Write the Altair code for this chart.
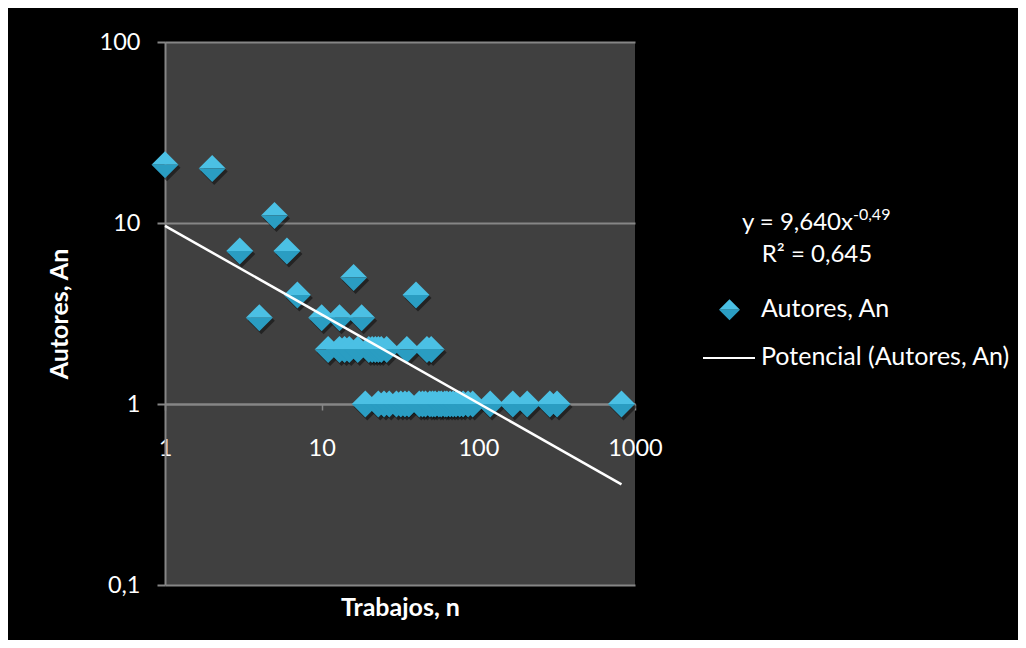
import altair as alt
import pandas as pd

# ---- data ----
trabajos = [1, 2, 3, 4, 5, 6, 7, 10, 13, 16, 18, 40,
            11, 13, 14, 15, 17, 20, 21, 22, 23, 24, 26, 35, 47, 50,
            19, 23, 25, 27, 30, 32, 34, 36, 42, 44, 46, 49, 51, 53, 56, 58, 61, 63,
            66, 69, 72, 76, 80, 86, 92, 119, 166, 205, 286, 318, 820]
autores = [21, 20, 7, 3, 11, 7, 4, 3, 3, 5, 3, 4,
           2, 2, 2, 2, 2, 2, 2, 2, 2, 2, 2, 2, 2, 2,
           1, 1, 1, 1, 1, 1, 1, 1, 1, 1, 1, 1, 1, 1, 1, 1, 1, 1,
           1, 1, 1, 1, 1, 1, 1, 1, 1, 1, 1, 1, 1]
coef_a = 9.640
coef_b = -0.49
eq_main = "y = 9,640x"
eq_exp = "-0,49"
r2_text = "R² = 0,645"
serie_puntos = "Autores, An"
serie_tend = "Potencial (Autores, An)"
x_title = "Trabajos, n"
y_title = "Autores, An"
x_ticks = [1, 10, 100, 1000]
y_ticks = [0.1, 1, 10, 100]

df = pd.DataFrame({"n": trabajos, "An": autores})
x_ext = [min(trabajos), max(trabajos)]
trend = pd.DataFrame({"n": x_ext, "An": [coef_a * v ** coef_b for v in x_ext]})

W, H = 470, 543
FONT = "Lato"
GRID = "#868686"
TOP = "#4BC0E4"
BOT = "#2A9DC2"
DSIZE = 729
TICKF = 23.5
TITLEF = 25

xscale = alt.Scale(type="log", domain=[1, 1000], nice=False)
yscale = alt.Scale(type="log", domain=[0.1, 100], nice=False)

x_axis = alt.Axis(values=x_ticks, labelExpr="toString(datum.value)", offset=-181,
                  grid=False, domainColor=GRID, domainWidth=2, tickColor=GRID,
                  tickSize=6, tickWidth=1.5, labelColor="white", labelFont=FONT,
                  labelFontSize=TICKF, labelPadding=26, labelFlush=False, labelOverlap=False,
                  title=x_title, titleColor="white", titleFont=FONT, titleFontSize=TITLEF,
                  titleFontWeight="bold", titleX=W / 2, titleY=211,
                  titleBaseline="alphabetic", titleAlign="center")
y_axis = alt.Axis(values=y_ticks, labelExpr="replace(toString(datum.value), '.', ',')",
                  grid=True, gridColor=GRID, gridWidth=2, domainColor=GRID, domainWidth=2,
                  tickColor=GRID, tickSize=8, tickWidth=2, labelColor="white",
                  labelFont=FONT, labelFontSize=TICKF, labelPadding=17, labelOverlap=False,
                  title=y_title, titleColor="white", titleFont=FONT, titleFontSize=TITLEF,
                  titleFontWeight="bold", titleX=-98, titleY=H / 2, titleAngle=-90,
                  titleBaseline="alphabetic", titleAlign="center")

xe = alt.X("n:Q", scale=xscale, axis=x_axis)
ye = alt.Y("An:Q", scale=yscale, axis=y_axis)

base = alt.Chart(df).encode(x=xe, y=ye)
shadow = base.mark_point(shape="diamond", filled=True, color="black", opacity=0.45,
                         size=DSIZE, xOffset=2, yOffset=3)
top_half = base.mark_point(shape="M-1,0L0,-1L1,0Z", filled=True, color=TOP, opacity=1, size=DSIZE)
bot_half = base.mark_point(shape="M-1,0L1,0L0,1Z", filled=True, color=BOT, opacity=1, size=DSIZE)

line = alt.Chart(trend).mark_line(color="white", strokeWidth=2.5).encode(x=xe, y=ye)

one = pd.DataFrame({"k": [0]})


def txt(s, x, y, align="left", size=24):
    return alt.Chart(one).mark_text(align=align, baseline="alphabetic", font=FONT,
                                    fontSize=size, color="white").encode(
        x=alt.value(x), y=alt.value(y), text=alt.value(s))


t_eq = txt(eq_main, 688, 188, align="right", size=24)
t_exp = txt(eq_exp, 688, 178, size=16)
t_r2 = txt(r2_text, 652, 220, align="center", size=24)
t_s1 = txt(serie_puntos, 596, 275, size=25)
t_s2 = txt(serie_tend, 596, 323, size=25)

lg = alt.Chart(one).encode(x=alt.value(564.5), y=alt.value(267.7))
lg_shadow = lg.mark_point(shape="diamond", filled=True, color="black", opacity=0.45,
                          size=441, xOffset=2, yOffset=3)
lg_top = lg.mark_point(shape="M-1,0L0,-1L1,0Z", filled=True, color=TOP, opacity=1, size=441)
lg_bot = lg.mark_point(shape="M-1,0L1,0L0,1Z", filled=True, color=BOT, opacity=1, size=441)
lg_line = alt.Chart(one).mark_rule(color="white", strokeWidth=2).encode(
    x=alt.value(538), x2=alt.value(590), y=alt.value(316))

chart = alt.layer(
    shadow, top_half, bot_half, line,
    t_eq, t_exp, t_r2, t_s1, t_s2, lg_shadow, lg_top, lg_bot, lg_line
).properties(
    width=W, height=H, background="black",
    padding={"left": 157, "top": 34, "right": 383, "bottom": 55},
    autosize=alt.AutoSizeParams(type="none")
).configure_view(fill="#404040", strokeWidth=0)

chart.save("out.html", embed_options={"renderer": "svg", "actions": False})
